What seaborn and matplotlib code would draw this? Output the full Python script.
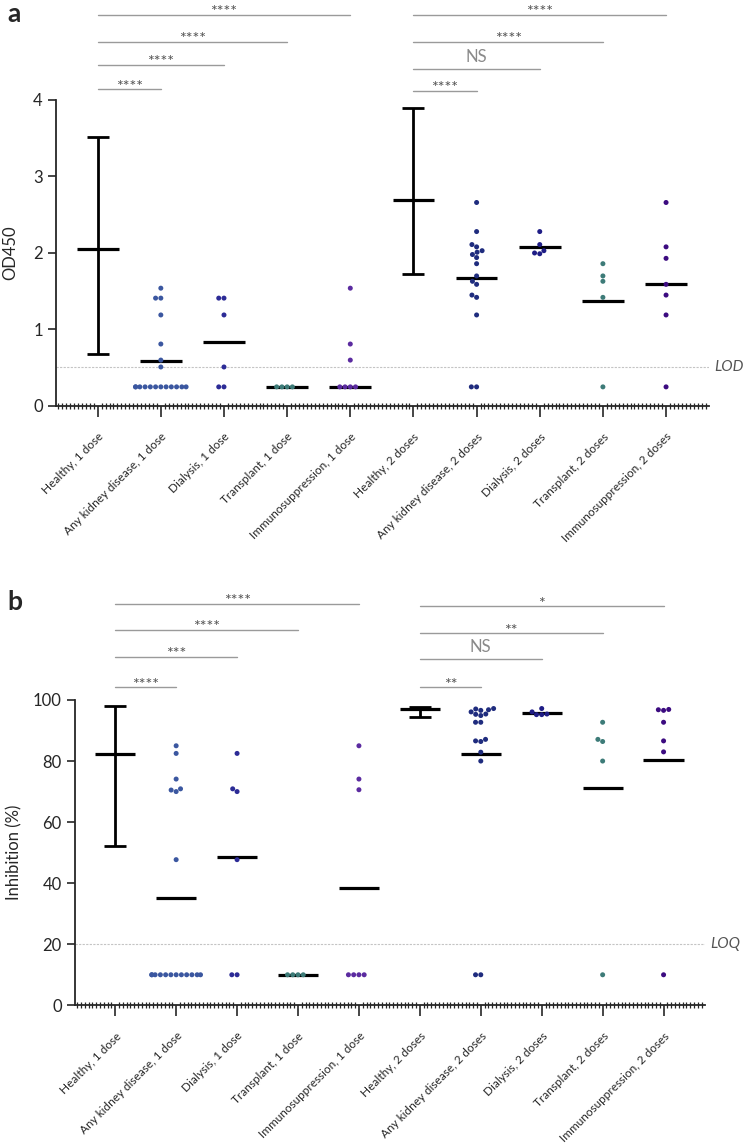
import numpy as np
import pandas as pd
import seaborn as sns
import matplotlib
matplotlib.use('Agg')  # no display
import matplotlib.pyplot as plt
from matplotlib.ticker import MultipleLocator

# categories (x order)
groups = ['Healthy, 1 dose', 'Any kidney disease, 1 dose', 'Dialysis, 1 dose',
          'Transplant, 1 dose', 'Immunosuppression, 1 dose', 'Healthy, 2 doses',
          'Any kidney disease, 2 doses', 'Dialysis, 2 doses', 'Transplant, 2 doses',
          'Immunosuppression, 2 doses']

group_colors = {
    'Any kidney disease, 1 dose': '#3b57a0',
    'Dialysis, 1 dose': '#2c2b96',
    'Transplant, 1 dose': '#3d7b78',
    'Immunosuppression, 1 dose': '#5b2ba0',
    'Any kidney disease, 2 doses': '#1f2c7e',
    'Dialysis, 2 doses': '#1f1d86',
    'Transplant, 2 doses': '#3d7b78',
    'Immunosuppression, 2 doses': '#3c0b80',
}

# ---- panel a: OD450 ----
kidney1_a = [1.54, 1.41, 1.41, 1.19, 0.81, 0.60, 0.51,
             0.25, 0.25, 0.25, 0.25, 0.25, 0.25, 0.25, 0.25, 0.25, 0.25, 0.25, 0.25]
dialysis1_a = [1.41, 1.41, 1.19, 0.51, 0.25, 0.25]
transplant1_a = [0.25, 0.25, 0.25, 0.25]
immuno1_a = [1.54, 0.81, 0.60, 0.25, 0.25, 0.25, 0.25]
kidney2_a = [2.66, 2.28, 2.11, 2.08, 2.03, 2.01, 1.98, 1.94, 1.86, 1.70, 1.63,
             1.59, 1.45, 1.42, 1.19, 0.25, 0.25]
dialysis2_a = [2.28, 2.11, 2.03, 2.00, 1.99]
transplant2_a = [1.86, 1.70, 1.63, 1.42, 0.25]
immuno2_a = [2.66, 2.08, 1.93, 1.59, 1.45, 1.19, 0.25]
center_a = [2.05, 0.59, 0.84, 0.25, 0.25, 2.69, 1.67, 2.08, 1.37, 1.59]
healthy_lo_a = [0.68, 1.73]
healthy_hi_a = [3.52, 3.89]
lod_a = 0.51
sig_left_a = ['****', '****', '****', '****']
sig_right_a = ['****', 'NS', '****', '****']

# ---- panel b: Inhibition (%) ----
kidney1_b = [85.0, 82.5, 74.1, 70.9, 70.5, 70.0, 47.7,
             10, 10, 10, 10, 10, 10, 10, 10, 10, 10, 10, 10]
dialysis1_b = [82.5, 70.9, 70.0, 47.7, 10, 10]
transplant1_b = [10, 10, 10, 10]
immuno1_b = [85.0, 74.1, 70.6, 10, 10, 10, 10]
kidney2_b = [97.2, 97.05, 96.8, 96.6, 96.1, 95.4, 95.3, 94.9, 92.7, 92.7,
             87.1, 86.6, 86.4, 82.9, 80.0, 10, 10]
dialysis2_b = [97.2, 96.1, 95.4, 95.2, 95.2]
transplant2_b = [92.7, 87.1, 86.4, 80.0, 10]
immuno2_b = [96.9, 96.8, 96.6, 92.7, 86.6, 83.0, 10]
center_b = [82.4, 35.3, 48.6, 10.0, 38.4, 97.1, 82.2, 95.6, 71.3, 80.3]
healthy_lo_b = [52.2, 94.4]
healthy_hi_b = [98.1, 97.8]
loq_b = 20
sig_left_b = ['****', '***', '****', '****']
sig_right_b = ['**', 'NS', '**', '*']


def long_frame(series):
    rows = []
    for g, vals in zip(groups, series):
        for v in vals:
            rows.append((g, v))
    return pd.DataFrame(rows, columns=['group', 'value'])


def draw_panel(ax, df, centers, h_lo, h_hi, limit, limit_label, ylim, yticks,
               ylabel, sig_left, sig_right, lev_left, lev_right, ylabel_x):
    # limit of detection / quantification
    ax.axhline(limit, color='#c4c4c4', lw=0.8, ls=(0, (2, 1.2)), zorder=0)
    ax.text(1.008, limit, limit_label, transform=ax.get_yaxis_transform(),
            fontsize=11, style='italic', color='#555555', va='center', ha='left')

    # mean / median lines
    xs = np.arange(len(groups))
    ax.hlines(centers, xs - 0.33, xs + 0.33, color='black', lw=2.3, zorder=2)

    # healthy controls: range bars
    hx = [0, 5]
    hm = [centers[0], centers[5]]
    yerr = [np.array(hm) - np.array(h_lo), np.array(h_hi) - np.array(hm)]
    ax.errorbar(hx, hm, yerr=yerr, fmt='none', ecolor='black', elinewidth=2.0,
                capsize=8, capthick=2.0, zorder=2)

    sns.swarmplot(data=df, x='group', y='value', hue='group', order=groups,
                  palette=group_colors, size=3.6, legend=False, ax=ax, zorder=3)

    ax.set_xlim(-0.66, 9.68)
    ax.set_ylim(*ylim)
    ax.set_yticks(yticks)
    ax.spines['left'].set_bounds(yticks[0], yticks[-1])
    sns.despine(ax=ax)
    ax.spines['left'].set_linewidth(1.3)
    ax.spines['bottom'].set_linewidth(1.3)

    ax.set_xlabel('')
    ax.set_ylabel(ylabel, fontsize=12)
    ax.yaxis.set_label_coords(ylabel_x, yticks[-1] / 2 / ylim[1])
    ax.tick_params(axis='y', labelsize=12, length=6, width=1.2, direction='out')
    ax.tick_params(axis='x', which='major', length=8, width=1.2, pad=10)
    ax.xaxis.set_minor_locator(MultipleLocator(1 / 16))
    ax.tick_params(axis='x', which='minor', length=4, width=0.9, direction='inout')
    ax.set_xticks(xs)
    ax.set_xticklabels(groups, rotation=45, ha='right', rotation_mode='anchor',
                       fontsize=8.5)

    # significance brackets
    for start, labels, levels in [(0, sig_left, lev_left), (5, sig_right, lev_right)]:
        for k, (lab, lev) in enumerate(zip(labels, levels)):
            end = start + k + 1
            ax.plot([start, end], [lev, lev], color='#9a9a9a', lw=1.0, clip_on=False)
            if lab == 'NS':
                ax.annotate(lab, xy=((start + end) / 2, lev), xytext=(0, 5),
                            textcoords='offset points', ha='center', va='baseline',
                            fontsize=12, color='#8a8a8a', annotation_clip=False)
            else:
                ax.annotate(lab, xy=((start + end) / 2, lev), xytext=(0, -1),
                            textcoords='offset points', ha='center', va='baseline',
                            fontsize=11.5, color='#555555', annotation_clip=False)


sns.set_theme(style='ticks')
plt.rcParams['font.family'] = ['Lato', 'DejaVu Sans']

fig = plt.figure(figsize=(7.44, 11.47), dpi=100)

df_a = long_frame([[], kidney1_a, dialysis1_a, transplant1_a, immuno1_a,
                   [], kidney2_a, dialysis2_a, transplant2_a, immuno2_a])
ax_a = fig.add_axes([56 / 744, 1 - 406 / 1147, 653 / 744, 405.5 / 1147])
draw_panel(ax_a, df_a, center_a, healthy_lo_a, healthy_hi_a, lod_a, 'LOD',
           (0, 5.3), [0, 1, 2, 3, 4], 'OD450', sig_left_a, sig_right_a,
           [4.14, 4.46, 4.76, 5.11], [4.12, 4.41, 4.76, 5.11], -0.058)

df_b = long_frame([[], kidney1_b, dialysis1_b, transplant1_b, immuno1_b,
                   [], kidney2_b, dialysis2_b, transplant2_b, immuno2_b])
ax_b = fig.add_axes([75 / 744, 1 - 1005.3 / 1147, 630 / 744, 430.5 / 1147])
draw_panel(ax_b, df_b, center_b, healthy_lo_b, healthy_hi_b, loq_b, 'LOQ',
           (0, 141), [0, 20, 40, 60, 80, 100], 'Inhibition (%)', sig_left_b, sig_right_b,
           [104.2, 114.2, 123.0, 131.5], [104.2, 113.4, 121.8, 130.7], -0.084)

fig.text(14 / 744, 1 - 14 / 1147, 'a', fontsize=19, fontweight='bold', ha='center', va='center')
fig.text(15 / 744, 1 - 602 / 1147, 'b', fontsize=19, fontweight='bold', ha='center', va='center')

fig.savefig('out.png', dpi=100)
